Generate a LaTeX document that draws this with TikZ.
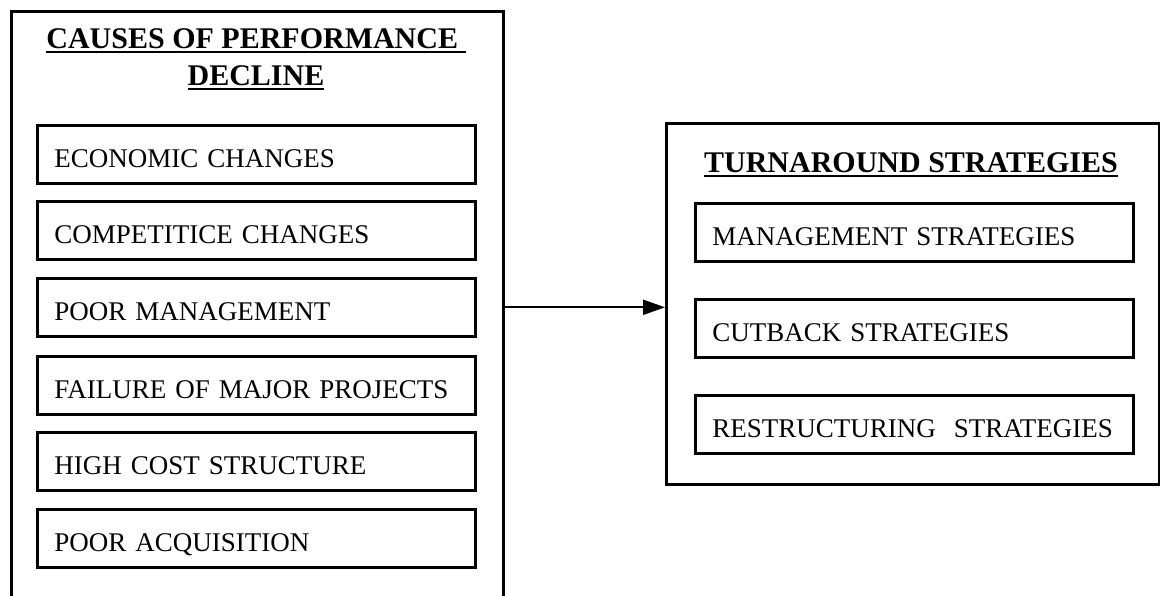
\documentclass[tikz,border=0pt]{standalone}
\usepackage{fontspec}
\setmainfont{Liberation Serif}
\usetikzlibrary{arrows.meta}
\newcommand\ulbox[1]{\setbox0\hbox{#1}\rlap{\rule[-4.5pt]{\wd0}{2pt}}\box0}
\tikzset{
  frame/.style={draw, line width=2.6pt, anchor=north west, inner sep=0pt},
  item/.style={draw, line width=2.6pt, anchor=north west, minimum width=438pt,
    minimum height=58pt, inner xsep=17pt, inner ysep=0pt, text width=404pt,
    align=left, text height=27pt, text depth=0pt, font=\fontsize{27}{32}\selectfont},
  heading/.style={anchor=north, inner sep=0pt, align=center,
    font=\fontsize{30}{37}\selectfont\bfseries},
  link/.style={line width=2.2pt, -{Triangle[length=22pt,width=15pt]}}
}
\begin{document}
\begin{tikzpicture}[x=1pt,y=-1pt]
\clip (0,0) rectangle (1160,596);
\fill[white] (0,0) rectangle (1160,596);
% left frame (open at the bottom, runs past the page)
\node[frame, minimum width=492pt, minimum height=640pt] (causes) at (10,10) {};
\node[heading] (ctitle) at (256,28) {\ulbox{CAUSES OF PERFORMANCE\ }\\\ulbox{DECLINE}};
\node[item] (ec) at (36,124) {ECONOMIC CHANGES};
\node[item] (cc) at (36,200) {COMPETITICE CHANGES};
\node[item] (pm) at (36,277) {POOR MANAGEMENT};
\node[item] (fm) at (36,355) {FAILURE OF MAJOR PROJECTS};
\node[item] (hc) at (36,431) {HIGH COST STRUCTURE};
\node[item] (pa) at (36,508) {POOR ACQUISITION};
% right frame
\node[frame, minimum width=493pt, minimum height=361pt] (turn) at (665,122) {};
\node[heading] (ttitle) at (911,152) {\ulbox{TURNAROUND STRATEGIES}};
\node[item] (ms) at (694,202) {MANAGEMENT STRATEGIES};
\node[item] (cs) at (694,298) {CUTBACK STRATEGIES};
\node[item] (rs) at (694,394) {RESTRUCTURING\ \ STRATEGIES};
% connector
\draw[link] (causes.east |- pm.east) -- (turn.west |- pm.east);
\end{tikzpicture}
\end{document}
